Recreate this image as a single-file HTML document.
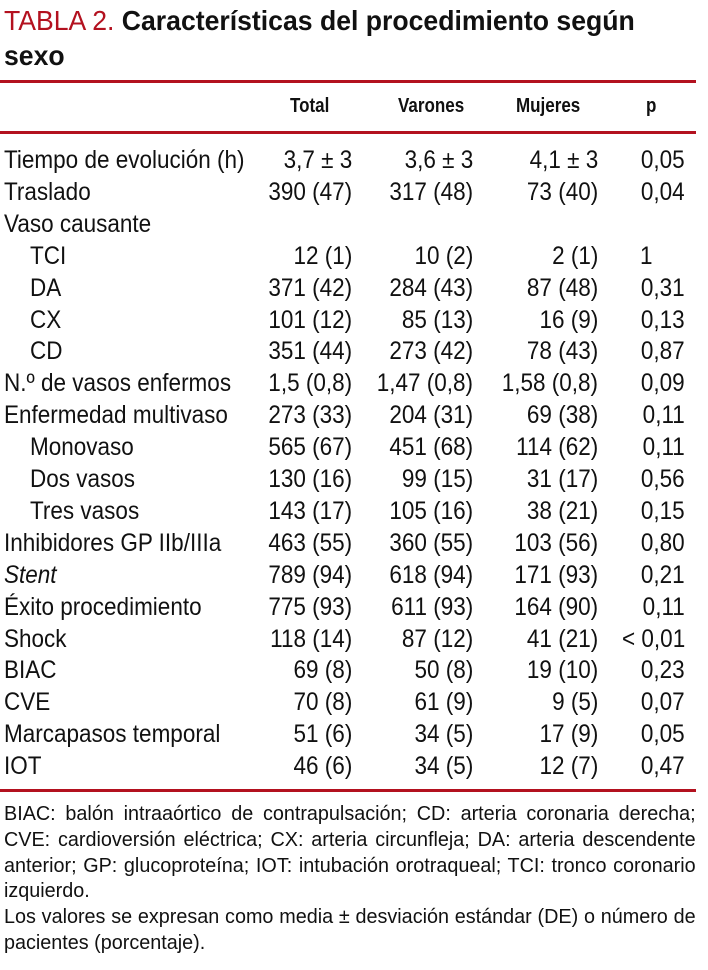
<!DOCTYPE html>
<html><head><meta charset="utf-8">
<style>
body{margin:0;background:#fff;width:708px;height:970px;position:relative;overflow:hidden;font-family:"Liberation Sans",sans-serif;color:#111}
.t{position:absolute;white-space:nowrap}
.rule{position:absolute;left:0;width:696px;height:3px;background:#b3111f}
#title{position:absolute;left:4px;top:3px;font-size:28px;line-height:35px;font-weight:bold;width:680px;transform:scaleX(0.95);transform-origin:left top}
#title span{color:#b3111f;font-weight:normal}
.h{font-weight:bold;font-size:20px;top:95px;transform:scaleX(0.85);transform-origin:left top}
.r{font-size:25px;line-height:32px;transform:scaleX(0.9)}
.l{transform-origin:left top}
.rt{transform-origin:right top}
#foot{position:absolute;left:4px;top:802px;width:713px;font-size:20.4px;line-height:25.8px;text-align:justify;transform:scaleX(0.97);transform-origin:left top}
</style></head><body>
<div id="title"><span>TABLA 2.</span> Características del procedimiento según sexo</div>
<div class="rule" style="top:80px"></div>
<div class="t h" style="left:290px">Total</div>
<div class="t h" style="left:398px">Varones</div>
<div class="t h" style="left:516px">Mujeres</div>
<div class="t h" style="left:646px">p</div>
<div class="rule" style="top:131px"></div>
<div id="rows"></div>
<div class="rule" style="top:789px"></div>
<div id="foot">BIAC: balón intraaórtico de contrapulsación; CD: arteria coronaria derecha; CVE: cardioversión eléctrica; CX: arteria circunfleja; DA: arteria descendente anterior; GP: glucoproteína; IOT: intubación orotraqueal; TCI: tronco coronario izquierdo.<br>Los valores se expresan como media ± desviación estándar (DE) o número de pacientes (porcentaje).</div>
<script>
const labels=["Tiempo de evolución (h)","Traslado","Vaso causante","TCI","DA","CX","CD","N.º de vasos enfermos","Enfermedad multivaso","Monovaso","Dos vasos","Tres vasos","Inhibidores GP IIb/IIIa","<i>Stent</i>","Éxito procedimiento","Shock","BIAC","CVE","Marcapasos temporal","IOT"];
const indent=[0,0,0,1,1,1,1,0,0,1,1,1,0,0,0,0,0,0,0,0];
const total=["3,7 ± 3","390 (47)","","12 (1)","371 (42)","101 (12)","351 (44)","1,5 (0,8)","273 (33)","565 (67)","130 (16)","143 (17)","463 (55)","789 (94)","775 (93)","118 (14)","69 (8)","70 (8)","51 (6)","46 (6)"];
const varones=["3,6 ± 3","317 (48)","","10 (2)","284 (43)","85 (13)","273 (42)","1,47 (0,8)","204 (31)","451 (68)","99 (15)","105 (16)","360 (55)","618 (94)","611 (93)","87 (12)","50 (8)","61 (9)","34 (5)","34 (5)"];
const mujeres=["4,1 ± 3","73 (40)","","2 (1)","87 (48)","16 (9)","78 (43)","1,58 (0,8)","69 (38)","114 (62)","31 (17)","38 (21)","103 (56)","171 (93)","164 (90)","41 (21)","19 (10)","9 (5)","17 (9)","12 (7)"];
const pvals=["0,05","0,04","","1","0,31","0,13","0,87","0,09","0,11","0,11","0,56","0,15","0,80","0,21","0,11","< 0,01","0,23","0,07","0,05","0,47"];
const wrap=document.getElementById('rows');
function cell(txt,cls,style,name){
  const d=document.createElement('div');
  d.className='t r '+cls;d.innerHTML=txt;d.style.cssText=style;
  
  
  wrap.appendChild(d);
}
labels.forEach((l,i)=>{
  const top=144+i*31.9;
  cell(l,'l',`left:${indent[i]?30:4}px;top:${top}px`,'row-label');
  if(total[i]){
    cell(total[i],'rt',`right:${708-352}px;top:${top}px`,'total-value');
    cell(varones[i],'rt',`right:${708-473}px;top:${top}px`,'varones-value');
    cell(mujeres[i],'rt',`right:${708-598}px;top:${top}px`,'mujeres-value');
    const p=pvals[i];
    if(p==="1") cell(p,'l',`left:640px;top:${top}px`,'p-value');
    else cell(p,'rt',`right:${708-685}px;top:${top}px`,'p-value');
  }
});
</script>
</body></html>
